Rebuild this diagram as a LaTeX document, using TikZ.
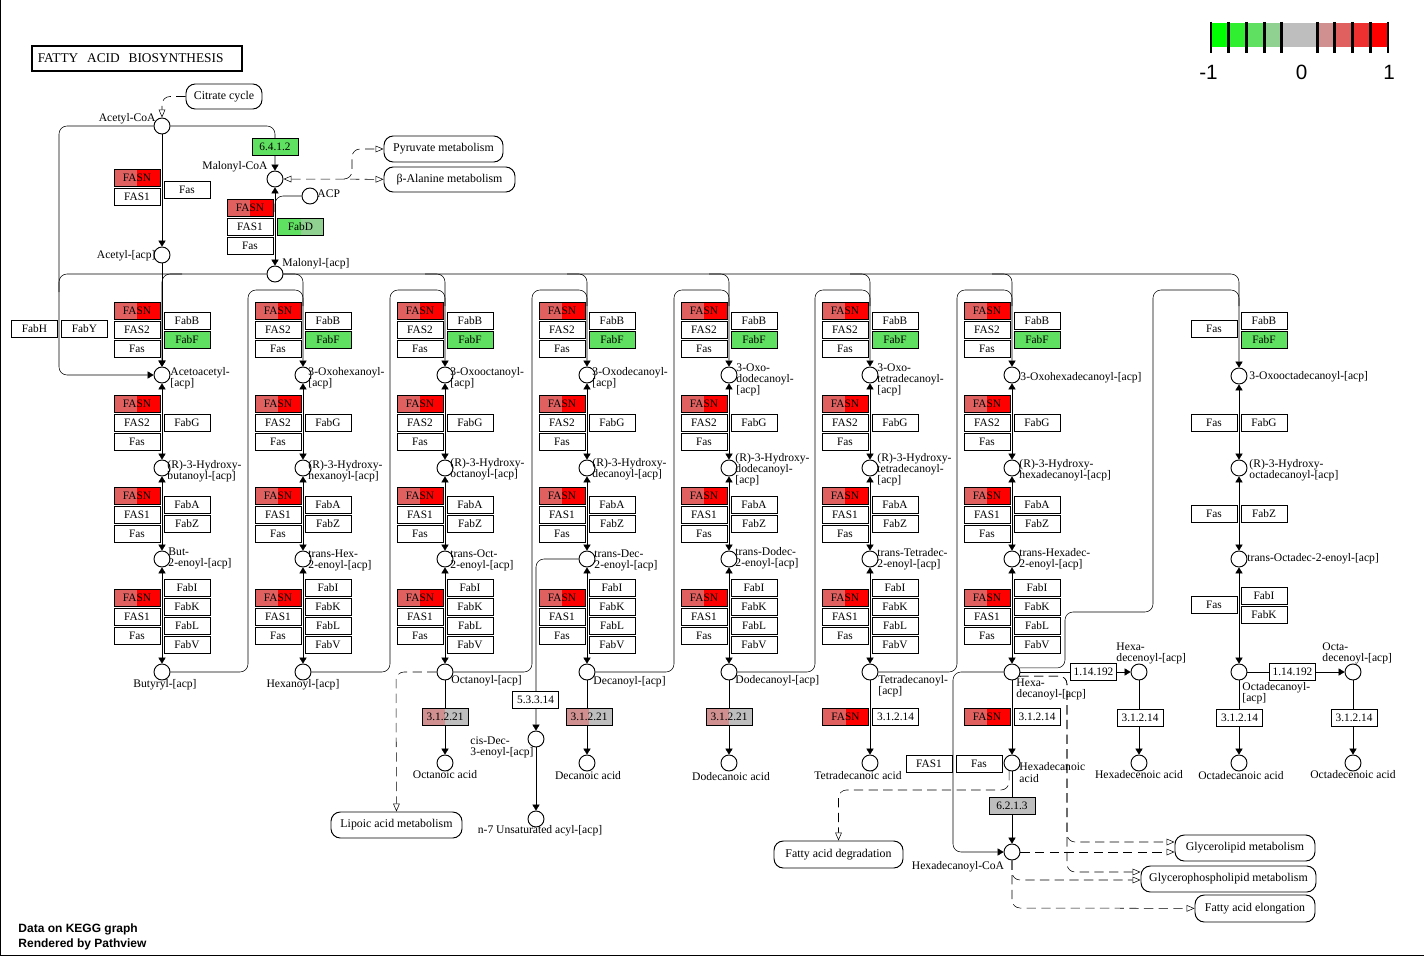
\documentclass[tikz,border=0pt]{standalone}
\usepackage{fontspec}
\setmainfont{Liberation Serif}
\newfontfamily\legfont{Liberation Sans}
\usetikzlibrary{arrows.meta,backgrounds}
\definecolor{gA}{HTML}{00FF00}
\definecolor{gB}{HTML}{30EE30}
\definecolor{gC}{HTML}{60E060}
\definecolor{gD}{HTML}{90D090}
\definecolor{gr}{HTML}{BEBEBE}
\definecolor{rD}{HTML}{D09090}
\definecolor{rC}{HTML}{E06060}
\definecolor{rB}{HTML}{EE3030}
\definecolor{rA}{HTML}{FF0000}
\newcommand\cmpfont{\fontsize{8.7}{8.3}\selectfont}
\newcommand\enzfont{\fontsize{8.5}{8.5}\selectfont}
\newcommand\mapfont{\fontsize{8.9}{8.9}\selectfont}
\begin{document}
\begin{tikzpicture}[x=0.75pt,y=-0.75pt,line width=0.7pt,
  enz/.style={draw, fill=white, minimum width=34.5pt, minimum height=12.75pt, inner sep=0pt, font=\enzfont},
  enzg/.style={enz, fill=gC},
  enzgr/.style={enz, fill=gr},
  duo/.style 2 args={enz, path picture={\fill[#1] (path picture bounding box.south west) rectangle (path picture bounding box.north); \fill[#2] (path picture bounding box.north) rectangle (path picture bounding box.south east);}},
  fasn/.style={duo={rC}{rA}},
  cpd/.style={circle, draw, fill=white, minimum size=12pt, inner sep=0pt},
  lbl/.style={inner sep=0pt, font=\cmpfont, align=left},
  lw/.style={lbl, anchor=west},
  map/.style={draw, fill=white, rounded corners=7pt, inner sep=0pt, font=\mapfont},
  rc/.style={rounded corners=6pt},
  dsh/.style={dash pattern=on 7pt off 4pt},
  >={Triangle[width=5.5pt,length=4.5pt]},
  oarr/.style={-{Triangle[open,width=5pt,length=6pt]}},
  oboth/.style={{Triangle[open,width=5pt,length=6pt]}-{Triangle[open,width=5pt,length=6pt]}},
]
\useasboundingbox (0,0) rectangle (1424,956);
\draw[line width=0.8pt] (0.5,0) -- (0.5,955.5) -- (1424,955.5);

% title
\node[draw, line width=1.2pt, anchor=west, minimum height=18.75pt, text width=148.5pt, inner xsep=4.5pt, inner ysep=0pt, align=left, font=\fontsize{10}{10}\selectfont] (title) at (31,58.5) {FATTY\ \ ACID\ \ BIOSYNTHESIS};

% legend
\foreach \c [count=\k from 0] in {gA,gB,gC,gD,gr,gr,rD,rC,rB,rA}
  \fill[\c] ({1211+\k*17.7},23) rectangle ++(17.7,24);
\foreach \k in {0,1,2,3,4,6,7,8,9,10}
  \draw[line width=2.2pt] ({1211+\k*17.7},22) -- ({1211+\k*17.7},53);
\node[inner sep=0pt, font=\legfont\fontsize{15.5}{15.5}\selectfont] (lgm) at (1208.5,72) {-1};
\node[inner sep=0pt, font=\legfont\fontsize{15.5}{15.5}\selectfont] (lgz) at (1301.5,72) {0};
\node[inner sep=0pt, font=\legfont\fontsize{15.5}{15.5}\selectfont] (lgp) at (1389,72) {1};

% footer
\node[anchor=west, align=left, inner sep=0pt, font=\legfont\bfseries\fontsize{9}{11.25}\selectfont] (foot) at (18,936.5) {Data on KEGG graph\\Rendered by Pathview};

% map links
\node[map, minimum width=57pt, minimum height=18.75pt] (citrate) at (224,96.5) {Citrate cycle};
\node[map, minimum width=89.25pt, minimum height=19.5pt] (pyr) at (443.5,149) {Pyruvate metabolism};
\node[map, minimum width=98.25pt, minimum height=18.75pt] (bala) at (449.5,179.5) {β-Alanine metabolism};
\node[map, minimum width=98.25pt, minimum height=19.5pt] (lipoic) at (396.5,825) {Lipoic acid metabolism};
\node[map, minimum width=96.75pt, minimum height=20.25pt] (fad) at (838.5,854.5) {Fatty acid degradation};
\node[map, minimum width=105pt, minimum height=19.5pt] (glyl) at (1245,848) {Glycerolipid metabolism};
\node[map, minimum width=131.25pt, minimum height=19.5pt] (glyp) at (1228.5,879) {Glycerophospholipid metabolism};
\node[map, minimum width=90pt, minimum height=20.25pt] (fae) at (1255,908.5) {Fatty acid elongation};

% top compounds
\node[cpd] (acCoA) at (162,126) {};
\node[cpd] (acACP) at (162,255) {};
\node[cpd] (malCoA) at (275,179) {};
\node[cpd] (malACP) at (275,274) {};
\node[cpd] (acp) at (310,196) {};
\node[lbl, anchor=east] (lacCoA) at (156,119) {Acetyl-CoA};
\node[lbl, anchor=east] (lacACP) at (156,256) {Acetyl-[acp]};
\node[lbl, anchor=east] (lmalCoA) at (268,167) {Malonyl-CoA};
\node[lw] (lmalACP) at (282,264) {Malonyl-[acp]};
\node[lw] (lacp) at (317,194) {ACP};

% top enzymes
\node[fasn] (t1) at (137,177.5) {FASN};
\node[enz] (t2) at (137,196.5) {FAS1};
\node[enz] (t3) at (187,190) {Fas};
\node[enzg] (t4) at (275,147) {6.4.1.2};
\node[fasn] (t5) at (250,207.5) {FASN};
\node[enz] (t6) at (250,226.5) {FAS1};
\node[enz] (t7) at (250,245.5) {Fas};
\node[duo={gC}{gD}] (t8) at (300.5,226.5) {FabD};
\node[enz] (fabH) at (34.5,329) {FabH};
\node[enz] (fabY) at (84.5,329) {FabY};

% columns 1-7
\foreach \i/\x in {1/162,2/303,3/445,4/587,5/729,6/870,7/1012}{
  \node[cpd] (A\i) at (\x,375) {};
  \node[cpd] (B\i) at (\x,468) {};
  \node[cpd] (C\i) at (\x,559) {};
  \node[cpd] (D\i) at (\x,672) {};
  \node[fasn] (k\i-1) at (\x-25,310.5) {FASN};
  \node[enz]  (k\i-2) at (\x-25,329.5) {FAS2};
  \node[enz]  (k\i-3) at (\x-25,348.5) {Fas};
  \node[enz]  (k\i-4) at (\x+25,320.5) {FabB};
  \node[enzg] (k\i-5) at (\x+25,339.5) {FabF};
  \node[fasn] (r\i-1) at (\x-25,403.5) {FASN};
  \node[enz]  (r\i-2) at (\x-25,422.5) {FAS2};
  \node[enz]  (r\i-3) at (\x-25,441.5) {Fas};
  \node[enz]  (r\i-4) at (\x+25,422.5) {FabG};
  \node[fasn] (h\i-1) at (\x-25,495.5) {FASN};
  \node[enz]  (h\i-2) at (\x-25,514.5) {FAS1};
  \node[enz]  (h\i-3) at (\x-25,533.5) {Fas};
  \node[enz]  (h\i-4) at (\x+25,504.5) {FabA};
  \node[enz]  (h\i-5) at (\x+25,523.5) {FabZ};
  \node[fasn] (n\i-1) at (\x-25,597.5) {FASN};
  \node[enz]  (n\i-2) at (\x-25,616.5) {FAS1};
  \node[enz]  (n\i-3) at (\x-25,635.5) {Fas};
  \node[enz]  (n\i-4) at (\x+25,587.5) {FabI};
  \node[enz]  (n\i-5) at (\x+25,606.5) {FabK};
  \node[enz]  (n\i-6) at (\x+25,625.5) {FabL};
  \node[enz]  (n\i-7) at (\x+25,644.5) {FabV};
}

% column 8
\node[cpd] (A8) at (1239,376) {};
\node[cpd] (B8) at (1239,468) {};
\node[cpd] (C8) at (1239,559) {};
\node[cpd] (D8) at (1239,672) {};
\node[enz] (k8-3) at (1214,329) {Fas};
\node[enz] (k8-4) at (1264,320.5) {FabB};
\node[enzg] (k8-5) at (1264,339.5) {FabF};
\node[enz] (r8-3) at (1214,422.5) {Fas};
\node[enz] (r8-4) at (1264,422.5) {FabG};
\node[enz] (h8-3) at (1214,514) {Fas};
\node[enz] (h8-5) at (1264,514) {FabZ};
\node[enz] (n8-3) at (1214,605) {Fas};
\node[enz] (n8-4) at (1264,595.5) {FabI};
\node[enz] (n8-5) at (1264,614.5) {FabK};

% compound labels
\node[lw] (lA1) at (170,378) {Acetoacetyl-\\{}[acp]};
\node[lw] (lB1) at (167,471.5) {(R)-3-Hydroxy-\\butanoyl-[acp]};
\node[lw] (lC1) at (168,558.5) {But-\\2-enoyl-[acp]};
\node[lbl] (lD1) at (165,685) {Butyryl-[acp]};
\node[lw] (lA2) at (308,378) {3-Oxohexanoyl-\\{}[acp]};
\node[lw] (lB2) at (308,471.5) {(R)-3-Hydroxy-\\hexanoyl-[acp]};
\node[lw] (lC2) at (308,560.5) {trans-Hex-\\2-enoyl-[acp]};
\node[lbl] (lD2) at (303,685) {Hexanoyl-[acp]};
\node[lw] (lA3) at (450,378) {3-Oxooctanoyl-\\{}[acp]};
\node[lw] (lB3) at (450,469.5) {(R)-3-Hydroxy-\\octanoyl-[acp]};
\node[lw] (lC3) at (450,560.5) {trans-Oct-\\2-enoyl-[acp]};
\node[lw] (lD3) at (451,681) {Octanoyl-[acp]};
\node[lw] (lA4) at (592,378) {3-Oxodecanoyl-\\{}[acp]};
\node[lw] (lB4) at (592,469.5) {(R)-3-Hydroxy-\\decanoyl-[acp]};
\node[lw] (lC4) at (594,560.5) {trans-Dec-\\2-enoyl-[acp]};
\node[lw] (lD4) at (593,682) {Decanoyl-[acp]};
\node[lw] (lA5) at (736,379.5) {3-Oxo-\\dodecanoyl-\\{}[acp]};
\node[lw] (lB5) at (735,470) {(R)-3-Hydroxy-\\dodecanoyl-\\{}[acp]};
\node[lw] (lC5) at (735,558.5) {trans-Dodec-\\2-enoyl-[acp]};
\node[lw] (lD5) at (735,681) {Dodecanoyl-[acp]};
\node[lw] (lA6) at (877,379.5) {3-Oxo-\\tetradecanoyl-\\{}[acp]};
\node[lw] (lB6) at (877,470) {(R)-3-Hydroxy-\\tetradecanoyl-\\{}[acp]};
\node[lw] (lC6) at (877,559) {trans-Tetradec-\\2-enoyl-[acp]};
\node[lw] (lD6) at (878,686.5) {Tetradecanoyl-\\{}[acp]};
\node[lw] (lA7) at (1020,378) {3-Oxohexadecanoyl-[acp]};
\node[lw] (lB7) at (1019,470) {(R)-3-Hydroxy-\\hexadecanoyl-[acp]};
\node[lw] (lC7) at (1019,559.5) {trans-Hexadec-\\2-enoyl-[acp]};
\node[lw] (lD7) at (1016,689.5) {Hexa-\\decanoyl-[acp]};
\node[lw] (lA8) at (1249,377) {3-Oxooctadecanoyl-[acp]};
\node[lw] (lB8) at (1249,470) {(R)-3-Hydroxy-\\octadecanoyl-[acp]};
\node[lw] (lC8) at (1247,559) {trans-Octadec-2-enoyl-[acp]};
\node[lw] (lD8) at (1242,693) {Octadecanoyl-\\{}[acp]};

% bottom part
\node[duo={rD}{gr}] (te3) at (445,716.5) {3.1.2.21};
\node[cpd] (octA) at (445,763) {};
\node[duo={rD}{gr}] (te4) at (589,716.5) {3.1.2.21};
\node[cpd] (decA) at (587,763) {};
\node[duo={rD}{gr}] (te5) at (729,716.5) {3.1.2.21};
\node[cpd] (dodA) at (729,763) {};
\node[fasn] (te6a) at (845.5,716.5) {FASN};
\node[enz] (te6b) at (895.5,716.5) {3.1.2.14};
\node[cpd] (tdA) at (870,763) {};
\node[fasn] (te7a) at (987,716.5) {FASN};
\node[enz] (te7b) at (1037,716.5) {3.1.2.14};
\node[cpd] (hdA) at (1012,763) {};
\node[enz] (f1) at (929,764) {FAS1};
\node[enz] (f2) at (979,764) {Fas};
\node[enzgr] (acs) at (1012,806) {6.2.1.3};
\node[cpd] (hdCoA) at (1012,852) {};
\node[enz] (isom) at (535.5,700) {5.3.3.14};
\node[cpd] (cisDec) at (536,739) {};
\node[cpd] (n7) at (536,819) {};
\node[enz] (des1) at (1093.5,671.5) {1.14.192};
\node[cpd] (hdec) at (1139,672) {};
\node[enz] (te8) at (1140,718) {3.1.2.14};
\node[cpd] (hdecA) at (1139,763) {};
\node[enz] (te9) at (1239.5,718) {3.1.2.14};
\node[cpd] (odA) at (1239,763) {};
\node[enz] (des2) at (1292.5,671.5) {1.14.192};
\node[cpd] (odec) at (1353,672) {};
\node[enz] (te10) at (1354,718) {3.1.2.14};
\node[cpd] (odecA) at (1353,763) {};

\node[lbl] (lOctA) at (445,775) {Octanoic acid};
\node[lbl] (lDecA) at (588,776) {Decanoic acid};
\node[lbl] (lDodA) at (731,777) {Dodecanoic acid};
\node[lbl] (lTdA) at (858,776) {Tetradecanoic acid};
\node[lw] (lHdA) at (1019,772.5) {Hexadecanoic\\acid};
\node[lbl] (lHdecA) at (1139,775) {Hexadecenoic acid};
\node[lbl] (lOdA) at (1241,776) {Octadecanoic acid};
\node[lbl] (lOdecA) at (1353,775) {Octadecenoic acid};
\node[lbl] (ln7) at (540,831) {n-7 Unsaturated acyl-[acp]};
\node[lw] (lcis) at (470,747.5) {cis-Dec-\\3-enoyl-[acp]};
\node[lbl] (lhdCoA) at (958,867) {Hexadecanoyl-CoA};
\node[lw] (lhdec) at (1116,653.5) {Hexa-\\decenoyl-[acp]};
\node[lw] (lodec) at (1322,653.5) {Octa-\\decenoyl-[acp]};

\coordinate (pbr) at (344,179);
\coordinate (g1) at (1067,842);
\coordinate (g2) at (1067,872);
\coordinate (g3) at (1012,880);
\coordinate (g4) at (1012,908);

\begin{scope}[on background layer]
  % top
  \draw[dsh, oarr, rc] (citrate) -- (162,96.5) -- (acCoA);
  \draw[dsh, oboth] (malCoA) -- (bala);
  \draw[dsh, oarr, rc] (pbr) -- (352,179) -- (352,149) -- (pyr);
  \draw[->] (acCoA) -- (acACP);
  \draw[->] (acACP) -- (A1);
  \draw[->, rc] (acCoA) -- (275,126) -- (malCoA);
  \draw[<->] (malCoA) -- (malACP);
  \draw[rc] (acp) -- (275,196) -- (275,212);
  \draw[->, rc] (acCoA) -- (59,126) -- (59,375) -- (A1);
  \draw[rc] (malACP) -- (59,274) -- (59,292);
  \draw[->, rc] (malACP) -- (1239,274) -- (A8);
  \draw[->, rc] (182,274) -- (162,274) -- (A1);
  % chains
  \foreach \i/\x in {2/303,3/445,4/587,5/729,6/870,7/1012}
    \draw[->, rc] (\x-20,274) -- (\x,274) -- (A\i);
  \foreach \i in {1,...,8}{
    \draw[<->] (A\i) -- (B\i);
    \draw[<->] (B\i) -- (C\i);
    \draw[<->] (C\i) -- (D\i);
  }
  % recycling loops
  \foreach \i/\xn in {1/303,2/445,3/587,4/729,5/870,6/1012}
    \draw[rc] (D\i) -- (\xn-55,672) -- (\xn-55,290) -- (\xn,290) -- (\xn,306);
  \draw[rc] (D7.30) -- (1065,668) -- (1065,612) -- (1153,612) -- (1153,290) -- (1239,290) -- (1239,306);
  % bottom
  \draw[->] (D3) -- (octA);
  \draw[dsh, oarr, rc] (D3) -- (396,672) -- (lipoic);
  \draw[->, rc] (C4) -- (536,559) -- (cisDec);
  \draw[->] (cisDec) -- (n7);
  \draw[->] (D4) -- (decA);
  \draw[->] (D5) -- (dodA);
  \draw[->] (D6) -- (tdA);
  \draw[->] (D7) -- (hdA);
  \draw[->] (hdA) -- (hdCoA);
  \draw[->, rc] (D7) -- (953,672) -- (953,852) -- (hdCoA);
  \draw[->] (D7) -- (hdec);
  \draw[->] (hdec) -- (hdecA);
  \draw[->] (D8) -- (odA);
  \draw[->] (D8) -- (odec);
  \draw[->] (odec) -- (odecA);
  \draw[dsh, oarr, rc] (hdA.250) -- (1009,790) -- (838.5,790) -- (fad);
  \draw[dsh, oarr, rc] (D7.-30) -- (1067,676) -- (g1) -- (glyl.west |- g1);
  \draw[dsh, oarr, rc] (D7.-30) -- (1067,676) -- (g2) -- (glyp.west |- g2);
  \draw[dsh, oarr] (hdCoA) -- (glyl.west |- hdCoA);
  \draw[dsh, oarr, rc] (hdCoA) -- (g3) -- (glyp.west |- g3);
  \draw[dsh, oarr, rc] (hdCoA) -- (g4) -- (fae);
\end{scope}
\end{tikzpicture}
\end{document}
